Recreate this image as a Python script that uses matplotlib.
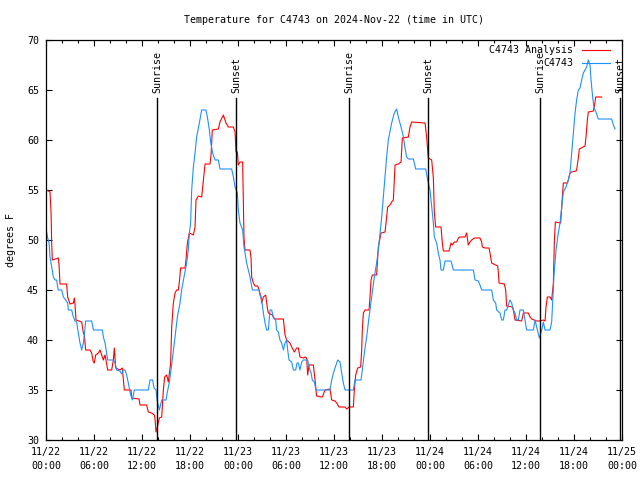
import matplotlib
matplotlib.use("Agg")
import matplotlib.pyplot as plt

# hours since 2024-11-22 00:00 UTC
red_h = [0.08, 0.5, 0.63, 0.71, 0.79, 1.54, 1.63, 1.75, 2.58, 2.71, 3.0, 3.42, 3.54, 3.63, 3.75,
         4.46, 4.67, 4.79, 4.96, 5.5, 5.71, 5.92, 6.04, 6.21, 6.54, 6.75, 6.96, 7.17, 7.38, 7.5,
         7.71, 8.21, 8.42, 8.54, 8.71, 9.25, 9.54, 9.67, 9.79, 10.63, 10.71, 11.63, 11.75, 12.58,
         12.79, 13.2, 13.54, 13.63, 13.75, 13.92, 14.17, 14.46, 14.67, 14.83, 15.08, 15.29, 15.58,
         15.71, 15.92, 16.13, 16.33, 16.54, 16.67, 16.83, 17.38, 17.5, 17.67, 17.92, 18.42, 18.63,
         18.75, 19.04, 19.46, 19.67, 19.88, 20.5, 20.63, 20.79, 21.54, 21.75, 22.17, 22.5, 22.79,
         23.42, 23.63, 23.75, 23.92, 24.04, 24.25, 24.58, 24.75, 24.88, 25.5, 25.63, 25.71, 25.92,
         26.13, 26.46, 26.63, 26.88, 26.96, 27.17, 27.46, 27.67, 27.79, 28.29, 28.54, 29.67, 29.88,
         30.08, 30.5, 30.71, 31.04, 31.33, 31.54, 31.75, 32.17, 32.38, 32.58, 32.71, 32.88, 33.42,
         33.63, 33.83, 34.38, 34.54, 34.88, 35.5, 35.71, 36.13, 36.33, 36.63, 37.38, 37.58, 37.88,
         38.42, 38.54, 38.71, 38.96, 39.33, 39.46, 39.54, 39.67, 39.88, 40.38, 40.5, 40.63, 40.79,
         41.33, 41.54, 41.88, 42.38, 42.58, 42.71, 43.0, 43.21, 43.42, 43.63, 44.04, 44.38, 44.54,
         45.29, 45.5, 45.71, 47.38, 47.58, 47.79, 48.21, 48.42, 48.54, 48.71, 49.38, 49.54, 49.67,
         50.38, 50.63, 50.79, 51.04, 51.33, 51.54, 51.75, 52.38, 52.58, 52.79, 53.0, 53.21, 53.54,
         53.71, 54.25, 54.46, 54.54, 54.88, 55.38, 55.5, 55.71, 56.46, 56.54, 56.63, 57.29, 57.46,
         57.58, 58.29, 58.42, 58.63, 59.46, 59.67, 60.29, 60.5, 60.71, 61.33, 61.75, 62.17, 62.38,
         62.5, 62.67, 63.0, 63.21, 63.42, 63.54, 63.67, 64.33, 64.46, 64.58, 64.67, 65.17, 65.29,
         65.5, 65.71, 66.25, 66.33, 66.54, 66.67, 67.38, 67.5, 67.67, 67.79, 68.42, 68.54, 68.71,
         69.46]
red_v = [55.0, 54.8, 52.8, 49.7, 48.0, 48.2, 47.5, 45.6, 45.6, 44.3, 43.6, 43.7, 44.2, 43.5, 42.0,
         41.8, 40.7, 40.5, 39.0, 39.0, 38.7, 37.8, 37.7, 38.5, 38.7, 39.0, 38.5, 38.0, 38.5, 38.0,
         37.0, 37.0, 38.0, 39.2, 37.2, 37.0, 37.2, 36.0, 35.0, 35.0, 34.2, 34.1, 33.5, 33.5,
         32.8, 32.7, 32.5, 32.1, 30.8, 31.3, 32.2, 32.3, 35.0, 36.3, 36.5, 35.8, 37.7,
         41.3, 43.7, 44.7, 45.0, 45.0, 45.8, 47.2, 47.2, 48.0, 49.7, 50.7, 50.5, 51.3,
         54.0, 54.4, 54.3, 56.0, 57.6, 57.6, 58.5, 61.0, 61.1, 61.8, 62.5, 61.7, 61.3,
         61.3, 60.8, 58.8, 58.8, 57.5, 57.8, 57.8, 50.2, 49.0, 49.0, 48.2, 46.3, 45.7,
         45.4, 45.4, 45.0, 44.3, 43.7, 44.3, 44.5, 43.2, 42.7, 42.5, 42.1, 42.1, 40.5,
         40.0, 39.7, 39.3, 38.8, 39.2, 39.2, 38.3, 38.2, 38.3, 38.2, 36.5, 37.5, 37.5,
         36.0, 34.4, 34.3, 34.3, 35.0, 35.1, 34.0, 33.9, 33.7, 33.3, 33.3, 33.1, 33.3,
         33.3, 35.0, 36.5, 37.2, 37.3, 39.0, 41.0, 42.7, 43.0, 43.0, 44.3, 46.0, 46.5,
         46.5, 49.3, 50.7, 50.8, 52.3, 53.3, 53.5, 53.8, 54.0, 57.5, 57.6, 57.8, 60.2,
         60.3, 61.3, 61.8, 61.7, 60.3, 58.2, 58.0, 56.2, 52.8, 51.3, 51.3, 49.7, 48.9,
         48.9, 49.7, 49.5, 49.8, 49.8, 50.2, 50.3, 50.3, 50.7, 49.5, 49.8, 50.0, 50.2,
         50.2, 50.2, 49.8, 49.3, 49.2, 49.2, 48.7, 47.7, 47.4, 46.8, 45.7, 45.6, 45.0,
         43.4, 43.3, 43.0, 42.0, 41.9, 42.7, 42.7, 42.3, 42.1, 41.9, 41.9, 42.0, 41.9,
         43.3, 44.3, 44.3, 44.0, 45.7, 49.8, 51.8, 51.7, 53.3, 54.7, 55.7, 55.7, 56.0,
         56.7, 56.8, 56.9, 57.0, 58.2, 59.1, 59.4, 60.3, 62.0, 62.8, 62.9, 63.3, 64.3,
         64.3]

blue_h = [0.08, 0.21, 0.38, 0.5, 0.71, 0.92, 1.13, 1.33, 1.46, 1.54, 1.96, 2.17, 2.46, 2.71, 2.79,
          3.21, 3.42, 3.63, 3.83, 4.04, 4.25, 4.46, 4.67, 4.79, 4.96, 5.71, 5.92, 7.04, 7.17, 7.38,
          7.58, 7.71, 8.42, 8.63, 8.83, 9.25, 9.46, 9.67, 9.88, 10.08, 10.29, 10.5, 10.79, 11.04,
          12.79, 13.0, 13.33, 13.5, 13.75, 13.92, 14.17, 14.46, 15.0, 15.17, 15.42, 15.58, 15.83,
          16.13, 16.42, 16.75, 16.96, 17.25, 17.58, 17.79, 17.92, 18.08, 18.21, 18.42, 18.63, 18.83,
          19.17, 19.46, 20.0, 20.17, 20.42, 20.58, 20.83, 21.13, 21.54, 21.75, 23.21, 23.42, 23.63,
          23.92, 24.04, 24.25, 24.58, 24.75, 24.88, 25.08, 25.29, 25.5, 25.63, 25.79, 26.63, 26.75,
          26.96, 27.17, 27.38, 27.58, 27.79, 28.0, 28.21, 28.42, 28.71, 28.83, 29.04, 29.25, 29.46,
          29.67, 29.88, 30.08, 30.21, 30.38, 30.71, 30.92, 31.21, 31.38, 31.54, 31.75, 31.96, 32.17,
          32.71, 32.88, 33.13, 33.29, 33.54, 33.75, 35.5, 35.71, 35.92, 36.13, 36.46, 36.75, 36.96,
          37.17, 37.38, 38.42, 38.63, 39.38, 39.54, 39.79, 40.08, 40.38, 40.71, 41.04, 41.33, 41.54,
          41.75, 41.96, 42.17, 42.38, 42.58, 42.79, 43.21, 43.54, 43.83, 44.04, 44.38, 44.67, 44.88,
          45.08, 45.29, 45.92, 46.21, 47.46, 47.71, 48.0, 48.21, 48.42, 48.54, 48.83, 49.04, 49.25,
          49.38, 49.67, 49.88, 50.63, 50.92, 53.42, 53.63, 54.04, 54.25, 54.46, 55.71, 55.92, 56.21,
          56.33, 56.75, 56.96, 57.17, 57.38, 57.58, 57.79, 58.0, 58.21, 58.42, 58.63, 58.83, 59.04,
          59.25, 59.67, 59.88, 60.08, 60.92, 61.13, 61.33, 61.67, 61.96, 62.17, 62.38, 63.0, 63.21,
          63.33, 63.5, 63.75, 64.04, 64.25, 64.46, 64.67, 65.0, 65.29, 65.5, 65.71, 65.92, 66.13,
          66.33, 66.54, 66.75, 66.96, 67.17, 67.58, 67.79, 68.0, 68.13, 68.33, 68.5, 68.75, 69.04,
          70.71, 70.92, 71.13]
blue_v = [50.8, 50.2, 49.7, 48.3, 47.3, 46.3, 46.0, 46.0, 45.3, 45.0, 45.0, 44.3, 44.0, 43.7, 43.0,
          43.0, 42.3, 41.9, 41.8, 40.7, 39.7, 39.0, 39.7, 40.5, 41.9, 41.9, 41.0, 41.0, 40.3, 39.7,
          38.7, 38.0, 38.0, 37.7, 37.0, 36.9, 36.6, 37.0, 37.0, 36.5, 35.7, 34.8, 34.0, 35.0,
          35.0, 36.0, 36.0, 35.2, 35.0, 33.8, 33.0, 34.0, 34.0, 34.8, 35.8, 36.7, 38.3,
          40.3, 42.3, 43.7, 45.0, 46.3, 47.7, 49.0, 50.7, 51.7, 55.0, 57.3, 58.7, 60.3,
          61.7, 63.0, 63.0, 62.3, 61.0, 59.8, 58.7, 58.0, 58.0, 57.1, 57.1, 56.3, 55.3,
          54.7, 53.0, 51.7, 51.0, 49.3, 48.7, 47.7, 47.0, 46.3, 45.7, 45.0, 45.0, 44.5,
          44.0, 42.7, 41.7, 41.0, 41.0, 43.0, 43.0, 42.3, 42.0, 41.0, 40.8, 40.0, 39.7,
          39.0, 39.7, 40.0, 39.0, 38.0, 37.8, 37.0, 37.0, 37.7, 37.7, 37.0, 37.8, 38.0,
          38.0, 37.3, 36.7, 36.0, 35.8, 35.0, 35.0, 36.0, 36.7, 37.2, 38.0, 37.8, 36.7,
          35.7, 35.0, 35.0, 36.0, 36.0, 37.0, 38.7, 40.3, 42.3, 44.3, 46.3, 47.7, 49.0,
          50.7, 52.3, 54.3, 56.3, 58.3, 60.0, 61.7, 62.7, 63.1, 62.3, 61.3, 60.3, 59.2,
          58.3, 58.1, 58.1, 57.1, 57.1, 56.0, 55.0, 53.3, 51.7, 50.3, 49.7, 48.7, 48.0,
          47.0, 47.0, 47.9, 47.9, 47.0, 47.0, 46.0, 45.9, 45.5, 45.0, 45.0, 44.0, 43.7,
          43.0, 42.7, 42.0, 42.0, 43.0, 43.0, 43.5, 44.0, 43.7, 43.0, 42.7, 42.0, 42.0,
          43.0, 43.0, 42.0, 41.0, 41.0, 42.0, 41.3, 40.2, 41.0, 41.8, 41.0, 41.0, 41.8,
          43.7, 46.5, 49.0, 50.7, 51.7, 53.3, 54.8, 55.3, 56.0, 56.7, 58.7, 60.7, 62.7,
          64.0, 65.0, 65.2, 66.0, 66.7, 67.3, 68.0, 67.5, 66.0, 64.3, 63.2, 62.8, 62.1,
          62.1, 61.5, 61.1]

sunrise_h = [13.9, 37.9, 61.8]
sunset_h = [23.8, 47.8, 71.75]

tick_h = [0, 6, 12, 18, 24, 30, 36, 42, 48, 54, 60, 66, 72]
tick_labels = ["11/22\n00:00", "11/22\n06:00", "11/22\n12:00", "11/22\n18:00",
               "11/23\n00:00", "11/23\n06:00", "11/23\n12:00", "11/23\n18:00",
               "11/24\n00:00", "11/24\n06:00", "11/24\n12:00", "11/24\n18:00",
               "11/25\n00:00"]

plt.rcParams['font.family'] = ['DejaVu Sans Mono']
plt.rcParams['font.size'] = 7.2

fig = plt.figure(figsize=(6.4, 4.8), dpi=100)
ax = fig.add_axes([46 / 640, 40 / 480, 576 / 640, 400 / 480])

red_col = '#FF0000'
blue_col = '#1E90FF'

ax.plot(red_h, red_v, color=red_col, lw=0.8)
ax.plot(blue_h, blue_v, color=blue_col, lw=0.8)

# sunrise / sunset markers
for h in sunrise_h:
    ax.plot([h, h], [30, 64.2], color='black', lw=1.0)
    ax.text(h, 64.7, "Sunrise", rotation=90, ha='center', va='bottom')
for h in sunset_h:
    ax.plot([h, h], [30, 64.2], color='black', lw=1.0)
    ax.text(h, 64.7, "Sunset", rotation=90, ha='center', va='bottom')

ax.set_xlim(0, 72)
ax.set_ylim(30, 70)
ax.set_xticks(tick_h)
ax.set_xticklabels(tick_labels, linespacing=1.5)
ax.set_xticks(range(0, 73, 2), minor=True)
ax.set_yticks(range(30, 71, 5))
ax.tick_params(which='both', direction='in', top=True, right=True, width=0.8)
ax.tick_params(which='major', length=4.5, pad=5)
ax.tick_params(which='minor', length=2.5)
for s in ax.spines.values():
    s.set_linewidth(0.9)

# legend drawn gnuplot style, no box
ax.text(0.915, 0.975, "C4743 Analysis", transform=ax.transAxes, ha='right', va='center')
ax.plot([0.931, 0.979], [0.975, 0.975], transform=ax.transAxes, color=red_col, lw=0.8)
ax.text(0.915, 0.9425, "C4743", transform=ax.transAxes, ha='right', va='center')
ax.plot([0.931, 0.979], [0.9425, 0.9425], transform=ax.transAxes, color=blue_col, lw=0.8)

fig.text(334 / 640, 1 - 20 / 480, "Temperature for C4743 on 2024-Nov-22 (time in UTC)",
         ha='center', va='center')
fig.text(11 / 640, 0.5, "degrees F", rotation=90, ha='center', va='center')

fig.savefig("out.png", dpi=100)
